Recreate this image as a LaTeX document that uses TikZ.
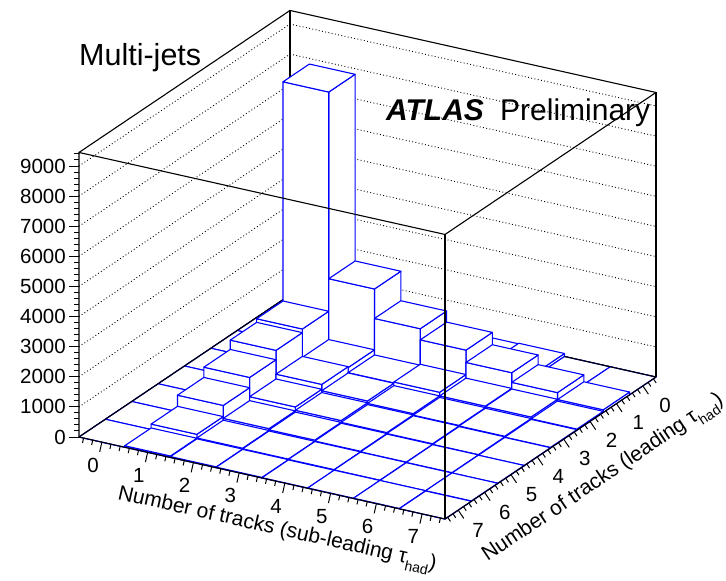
\documentclass[tikz,border=0pt]{standalone}
\usepackage{fontspec}
\setmainfont{Liberation Sans}
\newcommand\legobin[3]{%
  \filldraw[bin] (#1+1,#2,0) -- (#1+1,#2+1,0) -- (#1+1,#2+1,#3) -- (#1+1,#2,#3) -- cycle;
  \filldraw[bin] (#1,#2+1,0) -- (#1+1,#2+1,0) -- (#1+1,#2+1,#3) -- (#1,#2+1,#3) -- cycle;
  \filldraw[bin] (#1,#2,#3) -- (#1+1,#2,#3) -- (#1+1,#2+1,#3) -- (#1,#2+1,#3) -- cycle;
}
\begin{document}
\begin{tikzpicture}[x=1pt,y=-1pt,
  bin/.style={draw=blue, fill=white, line width=1.1pt, line join=round},
  frame/.style={draw=black, line width=1.1pt},
  gridline/.style={draw=black, line width=0.9pt, dash pattern=on 0.9pt off 2.4pt},
  lbl/.style={font=\fontsize{20.5}{24}\selectfont, inner sep=0pt},
  ttl/.style={font=\fontsize{21}{25}\selectfont, inner sep=0pt},
  tick/.style={draw=black, line width=1pt}]
\useasboundingbox (0,0) rectangle (726,581);
\fill[white] (0,0) rectangle (726,581);
\begin{scope}[shift={(290pt,-295pt)}, x={(45.75pt,-10.25pt)}, y={(-26.375pt,-17.75pt)}, z={(0pt,30.11pt)}]
  \coordinate (B0) at (0,0,0);
  \coordinate (BL) at (0,8,0);
  \coordinate (BR) at (8,0,0);
  \coordinate (BF) at (8,8,0);
  \coordinate (B6) at (6,0,0);
  \coordinate (T0) at (0,0,9.45);
  \coordinate (TL) at (0,8,9.45);
  \coordinate (TR) at (8,0,9.45);
  \coordinate (TF) at (8,8,9.45);
  \foreach \k in {1,...,9} { \draw[gridline] (0,8,\k) -- (0,0,\k) -- (8,0,\k); }
  \draw[frame] (TL) -- (T0) -- (TR);
  \draw[frame] (B0) -- (T0);
  \draw[frame] (BR) -- (TR);
  \draw[frame] (BL) -- (B0) -- (BR);
  \foreach \l in {0,...,7} { \legobin{0}{\l}{0} }
  \draw[frame] (BL) -- (B0);
  \foreach \s/\l/\h in {
    1/0/0.5, 1/1/8.6, 1/2/1.32, 1/3/1.2, 1/4/0.89, 1/5/0.55, 1/6/0.18, 1/7/0.05,
    2/0/0.3, 2/1/2.4, 2/2/0.38, 2/3/0.41, 2/4/0.25, 2/5/0.12, 2/6/0.06, 2/7/0.03,
    3/0/0.15, 3/1/1.42, 3/2/0.21, 3/3/0.2, 3/4/0.14, 3/5/0.08, 3/6/0.04, 3/7/0.02,
    4/0/0.08, 4/1/1.05, 4/2/0.24, 4/3/0.12, 4/4/0.08, 4/5/0.05, 4/6/0.03, 4/7/0.01,
    5/0/0.1, 5/1/0.64, 5/2/0.12, 5/3/0.07, 5/4/0.05, 5/5/0.03, 5/6/0.02, 5/7/0.01,
    6/0/0, 6/1/0.32, 6/2/0.1, 6/3/0.05, 6/4/0.03, 6/5/0.02, 6/6/0.01, 6/7/0.01,
    7/0/0, 7/1/0.09, 7/2/0.04, 7/3/0.02, 7/4/0.01, 7/5/0.01, 7/6/0.01, 7/7/0}
    { \legobin{\s}{\l}{\h} }
  \draw[frame] (B6) -- (BR);
  \draw[frame] (BL) -- (TL) -- (TF) -- (TR);
  \draw[frame] (BF) -- (TF);
  \draw[frame] (BL) -- (BF) -- (BR);
  \foreach \k in {0,...,39} {
    \pgfmathsetmacro\aa{0.1+0.2*\k}
    \pgfmathsetmacro\len{ifthenelse(mod(\k-2,5)==0,10,5)}
    \draw[tick] (\aa,8,0) -- ++(-0.218*\len pt,-0.976*\len pt);
  }
  \foreach \k in {0,...,39} {
    \pgfmathsetmacro\bb{0.1+0.2*\k}
    \pgfmathsetmacro\len{ifthenelse(mod(\k-2,5)==0,10,5)}
    \draw[tick] (8,\bb,0) -- ++(0.56*\len pt,-0.83*\len pt);
  }
\end{scope}
\foreach \k in {0,...,47} {
  \pgfmathsetmacro\yy{437-6.022*\k}
  \pgfmathsetmacro\len{ifthenelse(mod(\k,5)==0,10,5)}
  \draw[tick] (79-\len,\yy) -- (79,\yy);
}
\foreach \k/\t in {0/0,1/1000,2/2000,3/3000,4/4000,5/5000,6/6000,7/7000,8/8000,9/9000} {
  \node[lbl, anchor=east] (z\k) at (66,437-30.11*\k) {\t};
}
\foreach \k in {0,...,7} {
  \node[lbl] (sx\k) at (93+45.75*\k, 465+10.25*\k) {\k};
  \node[lbl] (ly\k) at (665-26.7*\k, 405+17.9*\k) {\k};
}
\node[ttl, rotate=-12.6] (xtitle) at (277,530.5) {Number of tracks (sub-leading τ\raisebox{-0.32em}{\fontsize{14}{14}\selectfont had})};
\node[ttl, rotate=33.9] (ytitle) at (603.5,479) {Number of tracks (leading τ\raisebox{-0.32em}{\fontsize{14}{14}\selectfont had})};
\node[font=\fontsize{30.5}{34}\selectfont, inner sep=0pt, anchor=base west] (mj) at (79,65) {Multi-jets};
\node[font=\fontsize{30}{34}\selectfont, inner sep=0pt, anchor=base west] (atlas) at (386,120) {\textbf{\textit{ATLAS}}};
\node[font=\fontsize{30}{34}\selectfont, inner sep=0pt, anchor=base west] (prelim) at (500,120) {Preliminary};
\end{tikzpicture}
\end{document}
